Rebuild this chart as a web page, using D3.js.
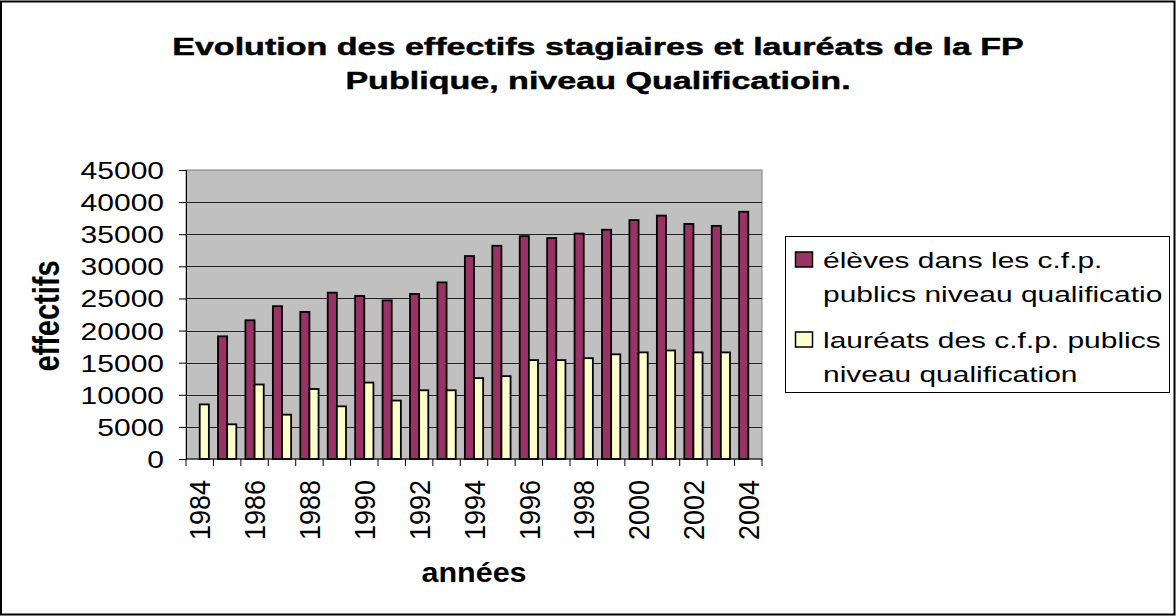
<!DOCTYPE html>
<html>
<head>
<meta charset="utf-8">
<script src="https://cdn.jsdelivr.net/npm/d3@7"></script>
<style>
  body { margin: 0; background: #fff; }
  svg { display: block; font-family: "Liberation Sans", Arial, sans-serif; }
</style>
</head>
<body>
<div id="chart"></div>
<script>
// data
var years = ["1984","1985","1986","1987","1988","1989","1990","1991","1992","1993","1994",
             "1995","1996","1997","1998","1999","2000","2001","2002","2003","2004"];
var eleves = [null, 19100, 21600, 23800, 22900, 25900, 25400, 24700, 25700, 27500, 31600,
              33200, 34700, 34400, 35100, 35700, 37200, 37900, 36600, 36300, 38500];
var laureats = [8500, 5400, 11600, 6900, 10900, 8200, 11900, 9100, 10700, 10700, 12600,
                12900, 15400, 15400, 15700, 16300, 16600, 16900, 16600, 16600, null];
var yTicks = [0, 5000, 10000, 15000, 20000, 25000, 30000, 35000, 40000, 45000];
var xLabels = ["1984","1986","1988","1990","1992","1994","1996","1998","2000","2002","2004"];
var seriesNames = ["élèves dans les c.f.p.|publics niveau qualificatio",
                   "lauréats des c.f.p. publics|niveau qualification"];
var colors = ["#993366", "#FFFFCC"];

var W = 1176, H = 616;
var plot = {left: 186, right: 762, top: 170, bottom: 459};

var svg = d3.select("#chart").append("svg")
  .attr("width", W)
  .attr("height", H);

// outer frame
svg.append("rect")
  .attr("x", 1).attr("y", 1.5)
  .attr("width", W - 2.5).attr("height", H - 3)
  .attr("fill", "#fff")
  .attr("stroke", "#000")
  .attr("stroke-width", 2);

var x = d3.scaleBand()
  .domain(years)
  .range([plot.left, plot.right]);

var bw = x.bandwidth();
var xs = d3.scaleBand()
  .domain([0, 1])
  .range([bw / 6, bw - bw / 6]);

var y = d3.scaleLinear()
  .domain([0, 45000])
  .range([plot.bottom, plot.top]);

// plot background
svg.append("rect")
  .attr("x", plot.left).attr("y", plot.top)
  .attr("width", plot.right - plot.left)
  .attr("height", plot.bottom - plot.top)
  .attr("fill", "#C0C0C0")
  .attr("stroke", "#808080")
  .attr("stroke-width", 1);

// gridlines
svg.append("g")
  .selectAll("line")
  .data(yTicks.slice(1, -1))
  .join("line")
  .attr("x1", plot.left).attr("x2", plot.right)
  .attr("y1", function(d) { return Math.round(y(d)) + 0.5; })
  .attr("y2", function(d) { return Math.round(y(d)) + 0.5; })
  .attr("stroke", "#222")
  .attr("stroke-width", 1);

// bars
var barData = [];
years.forEach(function(yr, i) {
  [eleves[i], laureats[i]].forEach(function(v, s) {
    if (v != null) barData.push({year: yr, s: s, value: v});
  });
});

svg.append("g")
  .selectAll("rect")
  .data(barData)
  .join("rect")
  .attr("x", function(d) { return x(d.year) + xs(d.s); })
  .attr("y", function(d) { return y(d.value); })
  .attr("width", xs.bandwidth())
  .attr("height", function(d) { return y(0) - y(d.value); })
  .attr("fill", function(d) { return colors[d.s]; })
  .attr("stroke", "#000")
  .attr("stroke-width", 1.8);

// y axis
var yAxis = svg.append("g")
  .attr("transform", "translate(" + plot.left + ",0)")
  .call(d3.axisLeft(y).tickValues(yTicks).tickSize(7).tickFormat(""));
yAxis.select(".domain").attr("stroke", "#000");

svg.append("g")
  .selectAll("text")
  .data(yTicks)
  .join("text")
  .attr("transform", function(d) { return "translate(164," + (y(d) + 9) + ") scale(1.25,1)"; })
  .attr("text-anchor", "end")
  .attr("font-size", 24)
  .text(function(d) { return d; });

// x axis: ticks on category boundaries
var bounds = years.map(function(d) { return x(d); }).concat([plot.right]);
svg.append("line")
  .attr("x1", plot.left).attr("x2", plot.right)
  .attr("y1", plot.bottom).attr("y2", plot.bottom)
  .attr("stroke", "#000");
svg.append("g")
  .selectAll("line")
  .data(bounds)
  .join("line")
  .attr("x1", function(d) { return d; }).attr("x2", function(d) { return d; })
  .attr("y1", plot.bottom).attr("y2", plot.bottom + 7)
  .attr("stroke", "#000");

svg.append("g")
  .selectAll("text")
  .data(xLabels)
  .join("text")
  .attr("transform", function(d) {
    return "translate(" + (x(d) + bw / 2) + ",480) scale(1.1,1) rotate(-90)";
  })
  .attr("text-anchor", "end")
  .attr("dy", "0.36em")
  .attr("font-size", 27)
  .text(function(d) { return d; });

// axis titles
svg.append("text")
  .attr("transform", "translate(474,582) scale(1.13,1)")
  .attr("text-anchor", "middle")
  .attr("font-weight", "bold")
  .attr("font-size", 27)
  .text("années");

svg.append("text")
  .attr("transform", "translate(59,316) scale(1.25,1) rotate(-90)")
  .attr("text-anchor", "middle")
  .attr("font-weight", "bold")
  .attr("font-size", 29)
  .text("effectifs");

// title
var titleLines = ["Evolution des effectifs stagiaires et lauréats de la FP",
                  "Publique, niveau Qualificatioin."];
svg.append("g")
  .selectAll("text")
  .data(titleLines)
  .join("text")
  .attr("transform", function(d, i) { return "translate(598," + (55 + i * 34) + ") scale(1.45,1)"; })
  .attr("text-anchor", "middle")
  .attr("font-weight", "bold")
  .attr("font-size", 23.5)
  .attr("stroke", "#000")
  .attr("stroke-width", 0.45)
  .text(function(d) { return d; });

// legend
var lg = svg.append("g");
lg.append("rect")
  .attr("x", 785.5).attr("y", 236.5)
  .attr("width", 384).attr("height", 156)
  .attr("fill", "#fff")
  .attr("stroke", "#000")
  .attr("stroke-width", 1);

var entryY = [252, 332];
seriesNames.forEach(function(name, i) {
  lg.append("rect")
    .attr("x", 795.5).attr("y", entryY[i])
    .attr("width", 17).attr("height", 15)
    .attr("fill", colors[i])
    .attr("stroke", "#000")
    .attr("stroke-width", 1.5);
  name.split("|").forEach(function(line, j) {
    lg.append("text")
      .attr("transform", "translate(823," + (entryY[i] + 16 + j * 33.5) + ") scale(1.33,1)")
      .attr("font-size", 22.5)
      .text(line);
  });
});
</script>
</body>
</html>
